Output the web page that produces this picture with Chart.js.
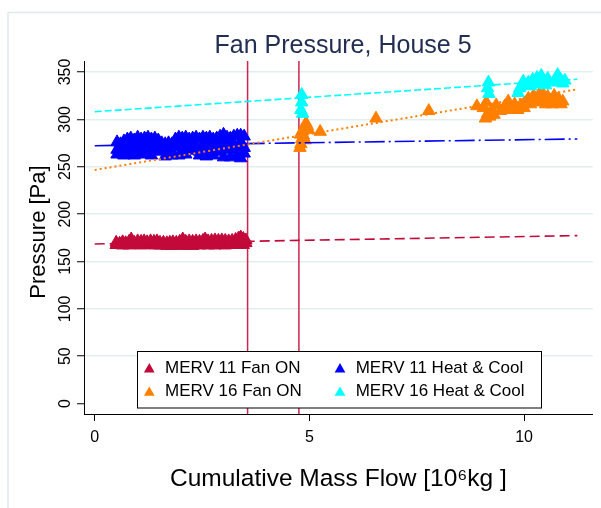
<!DOCTYPE html>
<html><head><meta charset="utf-8">
<script src="https://cdn.jsdelivr.net/npm/chart.js@4/dist/chart.umd.min.js"></script>
<style>html,body{margin:0;padding:0;background:#fff;}canvas{display:block;}</style>
</head><body>
<canvas id="c" width="601" height="508"></canvas>
<script>
const chartTitle = 'Fan Pressure, House 5';
const xTitle = 'Cumulative Mass Flow [10\u2076kg ]';
const yTitle = 'Pressure [Pa]';
const seriesLabels = ['MERV 11 Fan ON', 'MERV 16 Fan ON', 'MERV 11 Heat & Cool', 'MERV 16 Heat & Cool'];
const seriesColors = ['#c20a3a', '#ff7f00', '#0000ff', '#00ffff'];
const xTicks = [0, 5, 10];
const yTicks = [0, 50, 100, 150, 200, 250, 300, 350];
const cutoffs = [3.56, 4.755];

const merv11FanOn = [
 [0.50,170],[0.50,167.5],[0.58,169],[0.58,168],[0.65,170.5],[0.65,167],[0.72,169.5],[0.72,168.5],
 [0.80,171],[0.80,167],[0.85,173.5],[0.85,169],[0.92,170],[0.92,167.5],[1.00,171.5],[1.00,168],
 [1.08,171],[1.08,169.5],[1.08,167],[1.15,171.5],[1.15,168],[1.22,170.5],[1.22,167.5],[1.30,171.5],
 [1.30,169],[1.38,171],[1.38,167],[1.45,171.5],[1.45,168.5],[1.52,170],[1.52,167],[1.60,170],
 [1.60,168],[1.68,169.5],[1.68,166.5],[1.75,170],[1.75,168.5],[1.82,170.5],[1.82,166.5],[1.90,170],
 [1.90,168],[1.98,171],[1.98,167],[2.05,173.5],[2.05,169.5],[2.12,171],[2.12,166.5],[2.20,171.5],
 [2.20,168.5],[2.28,171],[2.28,166.5],[2.36,171.5],[2.36,169],[2.44,171],[2.44,167],[2.52,172],
 [2.52,168],[2.57,173.5],[2.57,170],[2.64,171.5],[2.64,167],[2.72,172],[2.72,169],[2.80,172.5],
 [2.80,167],[2.88,172],[2.88,169.5],[2.96,172.5],[2.96,167.5],[3.04,172],[3.04,167],[3.12,171.5],
 [3.12,169],[3.20,172],[3.20,167.5],[3.28,173],[3.28,169.5],[3.35,174.5],[3.35,168],[3.40,175.5],
 [3.40,170],[3.46,174],[3.46,167.5],[3.52,172.5],[3.52,169.5]
];
const merv16FanOn = [
 [4.78,270],[4.80,274],[4.82,279],[4.79,284],[4.84,288],[4.88,292],[4.92,296],[4.95,293],
 [4.98,289],[4.86,283],[4.90,278],[5.25,287],[6.55,301],[7.78,309],[8.90,314],
 [9.05,312],[9.12,318],[9.15,306],[9.20,303],[9.25,310],[9.30,305],[9.35,315],[9.10,301],
 [9.45,309],[9.55,314],[9.60,310],[9.63,319],[9.70,311],[9.75,313],[9.78,316],[9.85,310],
 [9.92,315],[10.00,312],[10.00,317],[10.05,318],[10.10,322],[10.15,316],[10.22,325],[10.25,318],
 [10.30,319],[10.36,327],[10.42,321],[10.45,326],[10.50,316],[10.55,324],[10.62,320],[10.65,316],
 [10.70,325],[10.75,317],[10.80,322],[10.86,316],[10.90,319]
];
const merv11HeatCool = [
 [0.52,276],[0.52,268],[0.52,263],[0.60,274],[0.60,270],[0.68,277],[0.68,266],[0.68,262],
 [0.76,279],[0.76,271],[0.84,280],[0.84,273],[0.84,265],[0.92,278],[0.92,269],[0.92,262],
 [1.00,281],[1.00,274],[1.08,279],[1.08,267],[1.08,263],[1.16,280],[1.16,272],[1.24,281],
 [1.24,275],[1.24,266],[1.32,279],[1.32,269],[1.32,262],[1.40,280],[1.40,273],[1.48,278],
 [1.48,266],[1.56,275],[1.56,270],[1.64,274],[1.64,267],[1.64,261],[1.72,275],[1.72,270],
 [1.80,274],[1.80,265],[1.80,262],[1.88,279],[1.88,271],[1.96,281],[1.96,274],[1.96,262],
 [2.04,280],[2.04,268],[2.12,281],[2.12,273],[2.12,263],[2.20,279],[2.20,270],[2.28,280],
 [2.28,275],[2.28,267],[2.36,281],[2.36,271],[2.44,279],[2.44,266],[2.44,262],[2.52,281],
 [2.52,273],[2.60,280],[2.60,269],[2.60,261],[2.68,281],[2.68,275],[2.76,279],[2.76,268],
 [2.76,262],[2.84,280],[2.84,272],[2.92,282],[2.92,274],[2.92,266],[3.00,284],[3.00,270],
 [3.00,260],[3.08,281],[3.08,275],[3.16,280],[3.16,268],[3.16,260],[3.24,282],[3.24,273],
 [3.32,283],[3.32,270],[3.32,262],[3.40,283],[3.40,276],[3.40,259],[3.48,282],[3.48,270],[3.48,264]
];
const merv16HeatCool = [
 [4.82,326],[4.82,318],[4.80,310],[4.84,306],
 [9.17,339],[9.15,333],[9.18,327],
 [9.86,328],[9.90,333],[9.95,336],[9.98,340],[10.05,336],[10.10,339],[10.15,335],[10.20,342],
 [10.25,337],[10.30,344],[10.35,339],[10.40,346],[10.45,341],[10.50,336],[10.55,343],[10.60,339],
 [10.70,340],[10.75,343],[10.78,347],[10.85,342],[10.90,338],[10.95,341]
];

const fitX = [0, 11.24];
const fitMerv11Fan = [168.5, 177.3];
const fitMerv16Fan = [246.6, 331.7];
const fitMerv11HeatCool = [272.2, 279.3];
const fitMerv16HeatCool = [308.1, 342.3];

const FONT = '"Liberation Sans", Arial, Helvetica, sans-serif';
const toPts = arr => arr.map(p => ({x: p[0], y: p[1]}));
const toFit = ys => fitX.map((x, i) => ({x: x, y: ys[i]}));

const pointSeries = [merv11FanOn, merv16FanOn, merv11HeatCool, merv16HeatCool];
const fitSeries = [fitMerv11Fan, fitMerv16Fan, fitMerv11HeatCool, fitMerv16HeatCool];
const fitDash = [[10,5],[2,3],[20,4,2,4],[7,3]];
const drawOrder = [4,3,2,1];

const datasets = [];
pointSeries.forEach((s, i) => {
  datasets.push({
    label: seriesLabels[i], data: toPts(s), showLine: false,
    pointStyle: 'triangle', pointRadius: 7.2, pointHoverRadius: 7.2,
    backgroundColor: seriesColors[i], borderColor: seriesColors[i], borderWidth: 1,
    order: drawOrder[i]
  });
});
fitSeries.forEach((s, i) => {
  datasets.push({
    type: 'line', label: seriesLabels[i] + ' fit', data: toFit(s), showLine: true,
    pointRadius: 0, borderColor: seriesColors[i], borderWidth: i === 1 ? 2 : 1.6,
    borderDash: fitDash[i], fill: false, order: 0
  });
});

function tri(ctx, cx, cy, r) {
  ctx.beginPath();
  ctx.moveTo(cx, cy - r);
  ctx.lineTo(cx + 0.866 * r, cy + 0.5 * r);
  ctx.lineTo(cx - 0.866 * r, cy + 0.5 * r);
  ctx.closePath();
  ctx.fill();
}

const decor = {
  id: 'decor',
  beforeDraw(chart) {
    const ctx = chart.ctx;
    ctx.save();
    ctx.fillStyle = '#fff';
    ctx.fillRect(0, 0, chart.width, chart.height);
    ctx.strokeStyle = '#dfe9ec';
    ctx.lineWidth = 1.5;
    ctx.beginPath();
    ctx.moveTo(8, chart.height);
    ctx.lineTo(8, 12.5);
    ctx.lineTo(chart.width, 12.5);
    ctx.stroke();
    ctx.restore();
  },
  beforeDatasetsDraw(chart) {
    const ctx = chart.ctx, xs = chart.scales.x, a = chart.chartArea;
    ctx.save();
    ctx.strokeStyle = '#cc2550';
    ctx.lineWidth = 1.5;
    cutoffs.forEach(v => {
      const px = xs.getPixelForValue(v);
      ctx.beginPath(); ctx.moveTo(px, a.top); ctx.lineTo(px, a.bottom); ctx.stroke();
    });
    ctx.restore();
  },
  afterDraw(chart) {
    const ctx = chart.ctx, ys = chart.scales.y;
    ctx.save();
    // title
    ctx.fillStyle = '#232f52';
    ctx.font = '25px ' + FONT;
    ctx.textAlign = 'center';
    ctx.textBaseline = 'alphabetic';
    ctx.fillText(chartTitle, 343, 53);
    // y axis title
    ctx.fillStyle = '#000';
    ctx.font = '22px ' + FONT;
    ctx.save();
    ctx.translate(45, 232);
    ctx.rotate(-Math.PI / 2);
    ctx.textAlign = 'center';
    ctx.textBaseline = 'alphabetic';
    ctx.fillText(yTitle, 0, 0);
    ctx.restore();
    // rotated y tick labels
    ctx.font = '16px ' + FONT;
    yTicks.forEach(v => {
      const py = ys.getPixelForValue(v);
      ctx.save();
      ctx.translate(70, py);
      ctx.rotate(-Math.PI / 2);
      ctx.textAlign = 'center';
      ctx.textBaseline = 'alphabetic';
      ctx.fillText(String(v), 0, 0);
      ctx.restore();
    });
    // legend
    ctx.fillStyle = '#fff';
    ctx.strokeStyle = '#000';
    ctx.lineWidth = 1;
    ctx.fillRect(137.5, 351.5, 404, 56.5);
    ctx.strokeRect(137.5, 351.5, 404, 56.5);
    const colMark = [149.3, 340], colText = [165, 355.7], rowY = [368.5, 391.8];
    ctx.font = '17px ' + FONT;
    ctx.textAlign = 'left';
    ctx.textBaseline = 'middle';
    seriesLabels.forEach((lab, i) => {
      const c = Math.floor(i / 2), r = i % 2;
      ctx.fillStyle = seriesColors[i];
      tri(ctx, colMark[c], rowY[r] + 0.8, 6.2);
      ctx.fillStyle = '#000';
      ctx.fillText(lab, colText[c], rowY[r]);
    });
    ctx.restore();
  }
};

new Chart(document.getElementById('c').getContext('2d'), {
  type: 'scatter',
  data: { datasets: datasets },
  options: {
    responsive: false, animation: false, devicePixelRatio: 1,
    layout: { padding: { top: 61, left: 0, right: 0, bottom: 0 } },
    plugins: { legend: { display: false }, title: { display: false }, tooltip: { enabled: false } },
    scales: {
      x: {
        type: 'linear', min: -0.25, max: 11.6,
        afterFit: s => { s.height = 94; },
        afterBuildTicks: s => { s.ticks = xTicks.map(v => ({ value: v })); },
        ticks: { color: '#000', font: { family: FONT, size: 16 }, padding: 7, maxRotation: 0 },
        grid: { drawOnChartArea: false, tickLength: 7, tickColor: '#000', tickWidth: 1 },
        border: { color: '#000', width: 1 },
        title: { display: true, text: xTitle, color: '#000', font: { family: FONT, size: 24.5 }, padding: { top: 0, bottom: 14 } }
      },
      y: {
        type: 'linear', min: -11, max: 361.6,
        afterFit: s => { s.width = 84; },
        afterBuildTicks: s => { s.ticks = yTicks.map(v => ({ value: v })); },
        ticks: { display: false },
        grid: {
          color: c => (c.tick && c.tick.value === 0) ? 'rgba(0,0,0,0)' : '#e3edef',
          lineWidth: 1.5, tickLength: 7, tickColor: '#000', tickWidth: 1
        },
        border: { color: '#000', width: 1 },
        title: { display: false }
      }
    }
  },
  plugins: [decor]
});
</script>
</body></html>
